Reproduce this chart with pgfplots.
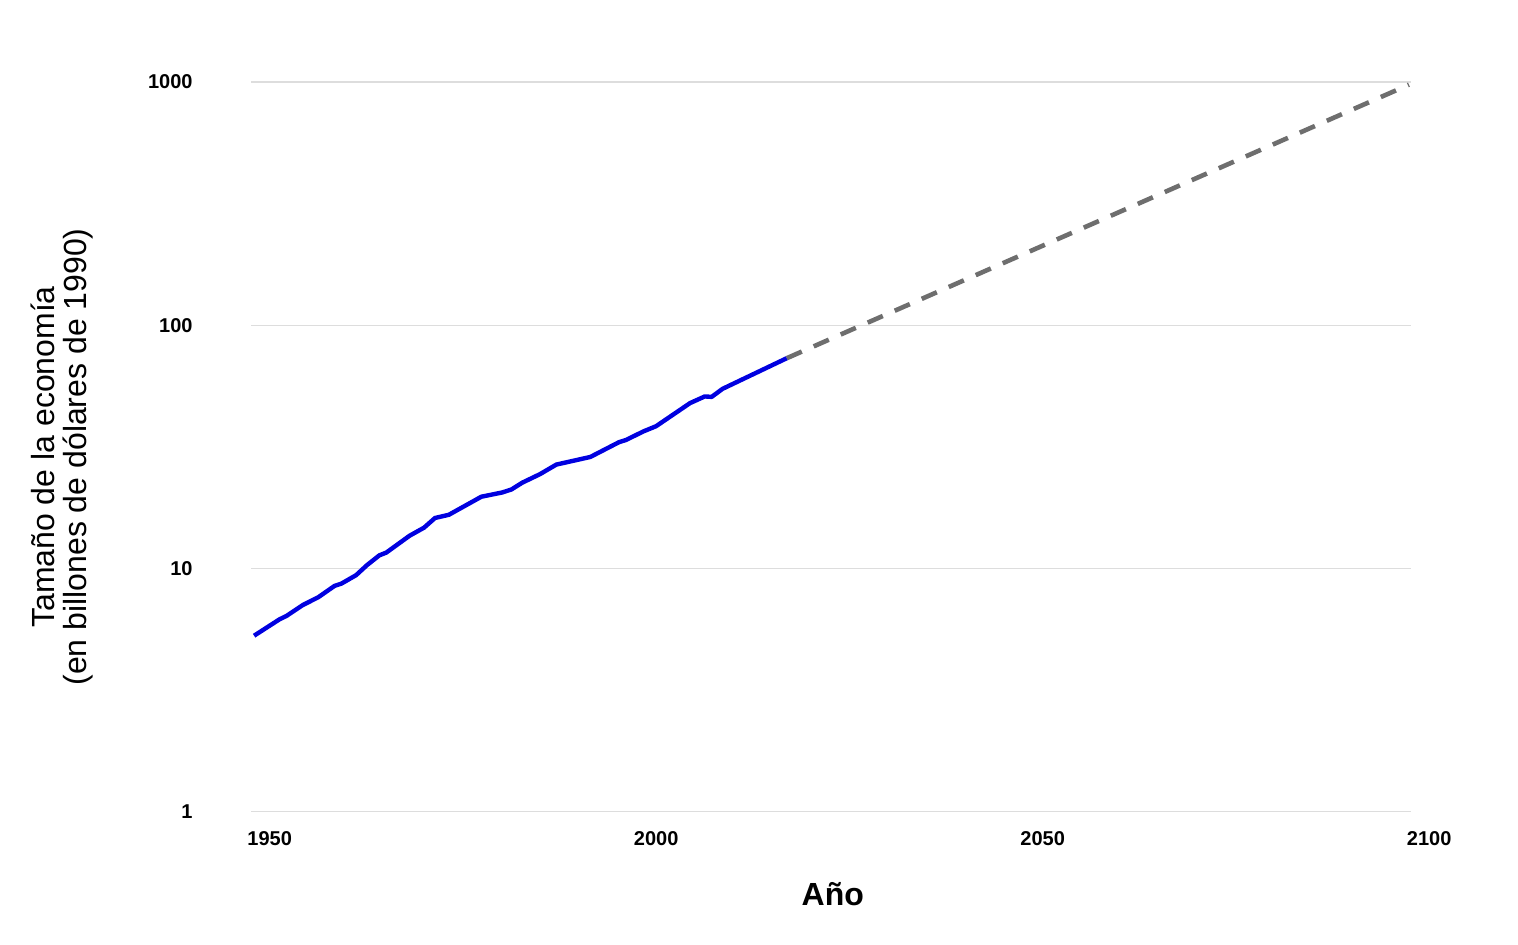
\documentclass[border=0pt]{standalone}
\usepackage{fontspec}
\setmainfont{Liberation Sans}
\usepackage{pgfplots}
\pgfplotsset{compat=1.18}

\definecolor{lineblue}{RGB}{0,0,224}
\definecolor{projgray}{RGB}{110,110,110}
\definecolor{gridgray}{RGB}{221,221,221}

\begin{document}
\begin{tikzpicture}
\useasboundingbox (0,0) rectangle (759pt,472pt);
\begin{axis}[
    at={(125.5pt,66.3pt)}, anchor=south west,
    scale only axis, width=579.75pt, height=364.7pt,
    ymode=log,
    xmin=1950, xmax=2100, ymin=1, ymax=1000,
    axis line style={draw=none},
    tick style={draw=none},
    ymajorgrids,
    major grid style={gridgray, line width=0.6pt},
    xtick={1950,2000,2050,2100},
    xticklabels={1950,2000,2050,2100},
    ytick={1,10,100,1000},
    yticklabels={1,10,100,1000},
    xticklabel style={font=\fontsize{10}{12}\selectfont\bfseries,
        anchor=north west, inner sep=0pt, yshift=-10pt, xshift=-2pt},
    yticklabel style={font=\fontsize{10}{12}\selectfont\bfseries,
        anchor=east, inner sep=0pt, xshift=-29pt},
    xlabel={Año},
    xlabel style={font=\fontsize{16}{19}\selectfont\bfseries,
        at={(axis description cs:0.5,0)}, anchor=base, yshift=-46.8pt, xshift=1pt},
    ylabel={Tamaño de la economía\\(en billones de dólares de 1990)},
    ylabel style={font=\fontsize{16}{16}\selectfont, align=center,
        at={(axis description cs:-0.163,0.486)}, anchor=center},
    clip=false,
]
% projection
\addplot[projgray, line width=2.3pt, dash pattern=on 8.25pt off 6.5pt] coordinates {
    (2019.3,73.1) (2099.8,975)
};
% historical
\addplot[lineblue, line width=2.2pt, line join=round] coordinates {
    (1950.4,5.28) (1953.7,6.17) (1954.6,6.37) (1956.7,7.06) (1958.7,7.60)
    (1960.8,8.46) (1961.7,8.65) (1963.6,9.37) (1965.0,10.3) (1966.6,11.3)
    (1967.5,11.6) (1970.5,13.6) (1972.4,14.7) (1973.8,16.1) (1975.6,16.6)
    (1979.8,19.7) (1982.5,20.5) (1983.7,21.1) (1985.1,22.5) (1987.4,24.4)
    (1989.5,26.7) (1993.9,28.7) (1997.6,33.0) (1998.5,33.7) (2000.8,36.6)
    (2002.4,38.4) (2006.8,47.8) (2008.7,50.9) (2009.6,50.7) (2011.0,54.7)
    (2019.3,73.1)
};
\end{axis}
\end{tikzpicture}
\end{document}
